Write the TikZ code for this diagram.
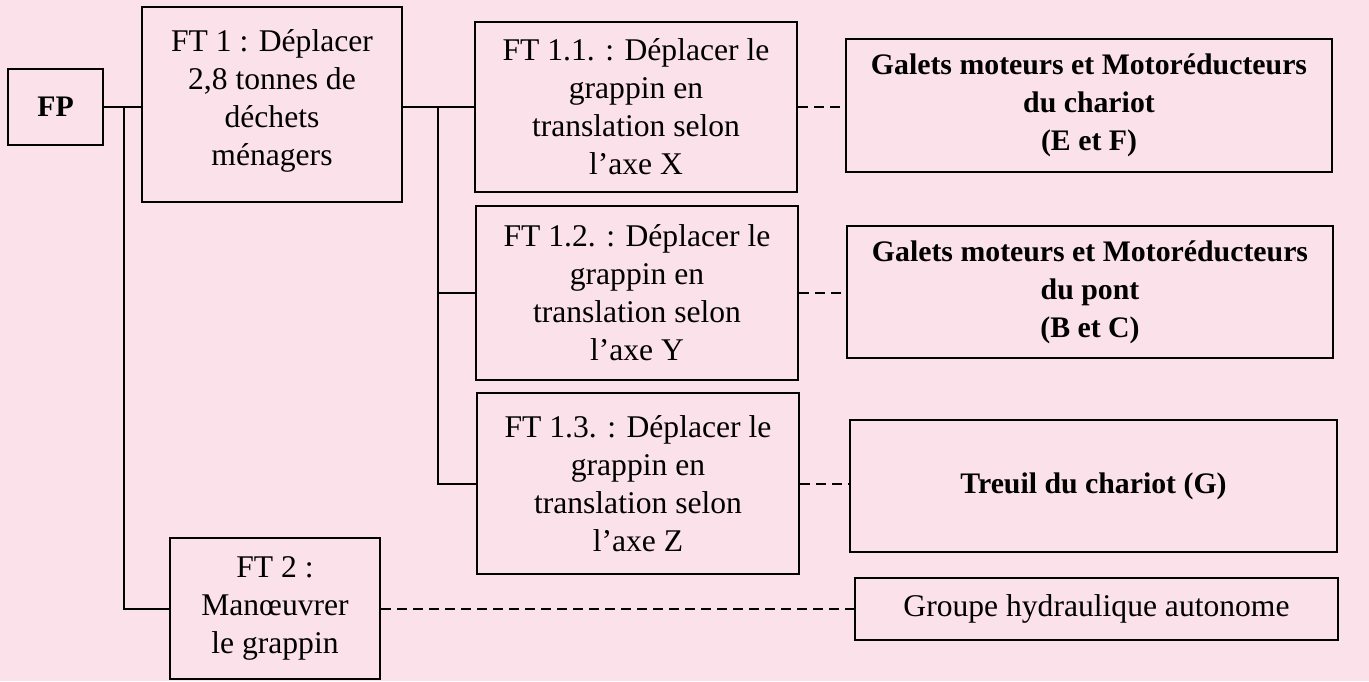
\documentclass[tikz,border=0pt]{standalone}
\usepackage{fontspec}
\setmainfont{Liberation Serif}
\usetikzlibrary{positioning}
\definecolor{fondrose}{RGB}{251,225,234}

\begin{document}
\begin{tikzpicture}[x=0.5pt,y=-0.5pt,
  bloc/.style={draw,line width=1.3pt,align=center,inner sep=2pt,font=\fontsize{15.8}{19}\selectfont},
  gras/.style={bloc,font=\fontsize{14.9}{19}\selectfont\bfseries},
  trait/.style={line width=1pt},
  lien/.style={line width=1pt,dash pattern=on 5pt off 3pt}]
\fill[fondrose] (0,0) rectangle (1369,681);
\useasboundingbox (0,0) rectangle (1369,681);
\node[gras,minimum width=47.5pt,minimum height=38pt](fp) at (55.5,107){FP};
\node[bloc,minimum width=130pt,minimum height=97.5pt](ft1) at (272,104.5){FT 1 : Déplacer\\2,8 tonnes de\\déchets\\ménagers\\[-12pt]\mbox{}};
\node[bloc,minimum width=105pt,minimum height=70.5pt](ft2) at (275,608.5){FT 2 :\\Manœuvrer\\le grappin};
\node[bloc,minimum width=161pt,minimum height=85pt](ft11) at (636,107){FT 1.1. : Déplacer le\\grappin en\\translation selon\\l’axe X};
\node[bloc,minimum width=161pt,minimum height=87pt](ft12) at (637,293){FT 1.2. : Déplacer le\\grappin en\\translation selon\\l’axe Y};
\node[bloc,minimum width=161pt,minimum height=90.5pt](ft13) at (638,483.5){FT 1.3. : Déplacer le\\grappin en\\translation selon\\l’axe Z};
\node[gras,minimum width=243pt,minimum height=66.5pt](chariot) at (1089,105.5){Galets moteurs et Motoréducteurs\\du chariot\\(E et F)};
\node[gras,minimum width=243pt,minimum height=66pt](pont) at (1090,292){Galets moteurs et Motoréducteurs\\du pont\\(B et C)};
\node[gras,minimum width=243.5pt,minimum height=66pt](treuil) at (1093.5,486){Treuil du chariot (G)};
\node[bloc,minimum width=241.5pt,minimum height=31pt](groupe) at (1096.5,609){Groupe hydraulique autonome};
\coordinate (t0) at (124,107);
\coordinate (t1) at (438,107);
\draw[trait] (fp.east) -- (fp.east -| ft1.west);
\draw[trait] (t0) |- (ft2.west);
\draw[trait] (ft1.east |- ft11.west) -- (ft11.west);
\draw[trait] (t1) |- (ft13.west);
\draw[trait] (t1 |- ft12.west) -- (ft12.west);
\draw[lien] (ft11.east) -- (ft11.east -| chariot.west);
\draw[lien] (ft12.east) -- (ft12.east -| pont.west);
\draw[lien] (ft13.east) -- (ft13.east -| treuil.west);
\draw[lien] (ft2.east) -- (ft2.east -| groupe.west);
\end{tikzpicture}
\end{document}
